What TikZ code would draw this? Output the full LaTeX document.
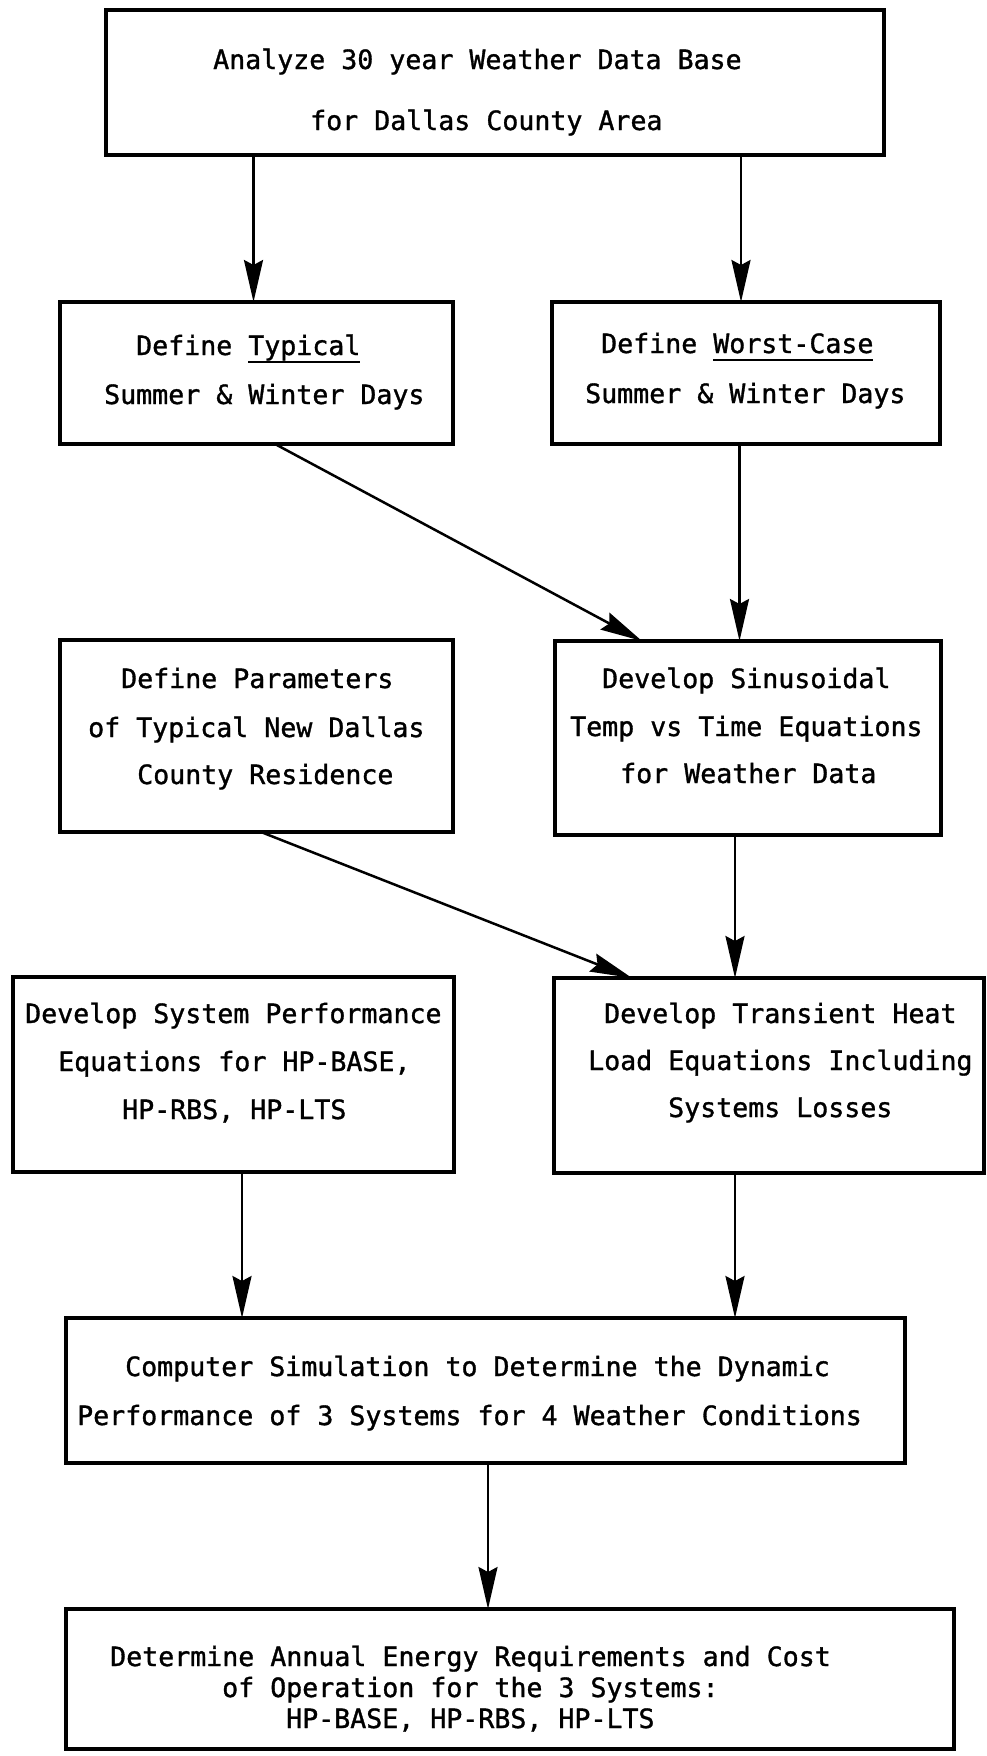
\documentclass[tikz,border=0pt]{standalone}
\usepackage{fontspec}
\newfontfamily\twfont[FakeBold=1.2]{DejaVu Sans Mono}
\usetikzlibrary{arrows.meta}
% underlined word, rule set just under the descenders
\newsavebox\ulbox
\newcommand\ulword[1]{\sbox\ulbox{#1}\rlap{\rule[-0.3em]{\wd\ulbox}{0.08em}}\usebox\ulbox}
\begin{document}
\begin{tikzpicture}[x=1pt,y=-1pt,
  box/.style={draw,line width=3.2pt,inner sep=0pt,outer sep=0pt,anchor=north west},
  txt/.style={anchor=base west,inner sep=0pt,font=\twfont\fontsize{26.6}{32}\selectfont},
  arr/.style={line width=2.5pt,-{Stealth[length=42pt,width=19pt,inset=5pt]}}]
\fill[white] (0,0) rectangle (987,1756);
\useasboundingbox (0,0) rectangle (987,1756);

% process boxes
\node[box,minimum width=778,minimum height=145] (b1) at (106,10) {};
\node[box,minimum width=393,minimum height=142] (b2l) at (60,302) {};
\node[box,minimum width=388,minimum height=142] (b2r) at (552,302) {};
\node[box,minimum width=393,minimum height=192] (b3l) at (60,640) {};
\node[box,minimum width=386,minimum height=194] (b3r) at (555,641) {};
\node[box,minimum width=441,minimum height=195] (b4l) at (13,977) {};
\node[box,minimum width=430,minimum height=195] (b4r) at (554,978) {};
\node[box,minimum width=839,minimum height=145] (b5) at (66,1318) {};
\node[box,minimum width=888,minimum height=140] (b6) at (66,1609) {};

% box texts, one node per typed line (positions are baselines)
\node[txt] (t1a) at (213,69) {Analyze 30 year Weather Data Base};
\node[txt] (t1b) at (310,130) {for Dallas County Area};

\node[txt] (t2a) at (136,355) {Define \ulword{Typical}};
\node[txt] (t2b) at (104,404) {Summer \& Winter Days};

\node[txt] (t3a) at (601,353) {Define \ulword{Worst-Case}};
\node[txt] (t3b) at (585,403) {Summer \& Winter Days};

\node[txt] (t4a) at (121,688) {Define Parameters};
\node[txt] (t4b) at (88,737) {of Typical New Dallas};
\node[txt] (t4c) at (137,784) {County Residence};

\node[txt] (t5a) at (602,688) {Develop Sinusoidal};
\node[txt] (t5b) at (570,736) {Temp vs Time Equations};
\node[txt] (t5c) at (620,783) {for Weather Data};

\node[txt] (t6a) at (25,1023) {Develop System Performance};
\node[txt] (t6b) at (58,1071) {Equations for HP-BASE,};
\node[txt] (t6c) at (122,1119) {HP-RBS, HP-LTS};

\node[txt] (t7a) at (604,1023) {Develop Transient Heat};
\node[txt] (t7b) at (588,1070) {Load Equations Including};
\node[txt] (t7c) at (668,1117) {Systems Losses};

\node[txt] (t8a) at (125,1376) {Computer Simulation to Determine the Dynamic};
\node[txt] (t8b) at (77,1425) {Performance of 3 Systems for 4 Weather Conditions};

\node[txt] (t9a) at (110,1666) {Determine Annual Energy Requirements and Cost};
\node[txt] (t9b) at (222,1697) {of Operation for the 3 Systems:};
\node[txt] (t9c) at (286,1728) {HP-BASE, HP-RBS, HP-LTS};

% columns where the connectors run
\coordinate (xa) at (253.5,0);
\coordinate (xb) at (741,0);
\coordinate (xc) at (739.5,0);
\coordinate (xd) at (735,0);
\coordinate (xe) at (242,0);
\coordinate (xf) at (488,0);
\coordinate (xg) at (275,0);
\coordinate (xh) at (642,0);
\coordinate (xi) at (261,0);
\coordinate (xj) at (632,0);

% connectors
\draw[arr] (b1.south -| xa) -- (b2l.north -| xa);
\draw[arr] (b1.south -| xb) -- (b2r.north -| xb);
\draw[arr] (b2l.south -| xg) -- (b3r.north -| xh);
\draw[arr] (b2r.south -| xc) -- (b3r.north -| xc);
\draw[arr] (b3l.south -| xi) -- (b4r.north -| xj);
\draw[arr] (b3r.south -| xd) -- (b4r.north -| xd);
\draw[arr] (b4l.south -| xe) -- (b5.north -| xe);
\draw[arr] (b4r.south -| xd) -- (b5.north -| xd);
\draw[arr] (b5.south -| xf) -- (b6.north -| xf);
\end{tikzpicture}
\end{document}
